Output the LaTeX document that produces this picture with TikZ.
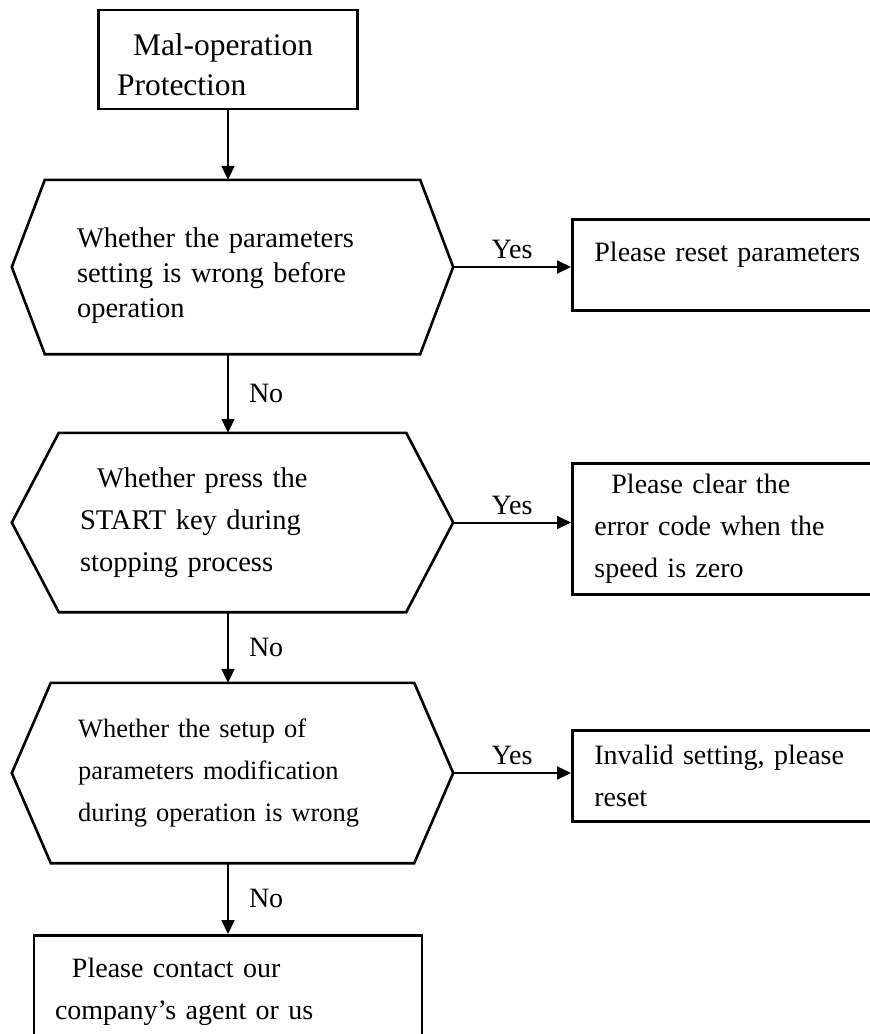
\documentclass[tikz,border=0pt]{standalone}
\usepackage{fontspec}
\setmainfont{Liberation Serif}
\usetikzlibrary{arrows.meta, positioning}
\tikzset{
    box/.style={
        rectangle, draw=black, line width=2.8pt,
        inner xsep=22pt, align=left,
        font=\fontsize{28pt}{42pt}\selectfont
    },
    hexbox/.style={
        rectangle, minimum width=441pt, inner xsep=0pt, align=left,
        font=\fontsize{28.5pt}{42pt}\selectfont
    },
    hexline/.style={draw=black, line width=2.6pt},
    arrow/.style={-{Triangle[length=14pt, width=13pt]}, line width=2pt},
    tag/.style={font=\fontsize{28pt}{34pt}\selectfont, inner sep=3pt}
}

\begin{document}
\begin{tikzpicture}[x=1pt, y=-1pt]
    \useasboundingbox (0,0) rectangle (870,1034);

    % Start
    \node[box, minimum width=259pt, minimum height=99pt, text width=222pt, inner xsep=0pt,
          font=\fontsize{31.5pt}{40pt}\selectfont] (start) at (228,59.5)
        {\rule{0pt}{32.5pt}\hspace*{16pt}Mal-operation\\Protection};

    % Checks
    \node[hexbox, minimum height=174pt, text width=311pt,
          font=\fontsize{28.5pt}{35pt}\selectfont] (q1) at (232.5,267)
        {\rule{0pt}{37.5pt}Whether the parameters\\setting is wrong before\\operation};
    \node[hexbox, minimum height=179pt, text width=305pt] (q2) at (232.5,522.5)
        {\hspace*{17pt}Whether press the\\START key during\\stopping process};
    \node[hexbox, minimum height=180pt, text width=309pt,
          font=\fontsize{26.5pt}{42pt}\selectfont] (q3) at (232.5,773)
        {Whether the setup of\\parameters modification\\during operation is wrong};

    \foreach \n/\c in {q1/33, q2/47, q3/39}
        \draw[hexline] ([xshift=\c pt]\n.north west) -- ([xshift=-\c pt]\n.north east) -- (\n.east)
            -- ([xshift=-\c pt]\n.south east) -- ([xshift=\c pt]\n.south west) -- (\n.west) -- cycle;

    % Answers
    \node[box, anchor=north west, text width=280pt, minimum height=91pt] (r1) at (571,218)
        {Please reset parameters\rule[-26pt]{0pt}{26pt}};
    \node[box, anchor=north west, text width=280pt, minimum height=131pt] (r2) at (571,462)
        {\hspace*{17pt}Please clear the\\error code when the\\speed is zero};
    \node[box, anchor=north west, text width=280pt, minimum height=91pt] (r3) at (571,729)
        {Invalid setting, please\\reset};

    \node[box, anchor=north, minimum width=388pt, minimum height=112pt, text width=346pt,
          inner xsep=0pt] (contact) at (228,934)
        {\hspace*{17pt}Please contact our\\company's agent or us};

    % Connectors
    \draw[arrow] (start.south) -- (start.south |- q1.north);
    \draw[arrow] (start.south |- q1.south) -- (start.south |- q2.north)
        node[tag, midway, right=17pt] (no1) {No};
    \draw[arrow] (start.south |- q2.south) -- (start.south |- q3.north)
        node[tag, midway, right=17pt] (no2) {No};
    \draw[arrow] (start.south |- q3.south) -- (contact.north)
        node[tag, midway, right=17pt] (no3) {No};

    \draw[arrow] (q1.east) -- (q1.east -| r1.west) node[tag, midway, above=4pt] (yes1) {Yes};
    \draw[arrow] (q2.east) -- (q2.east -| r2.west) node[tag, midway, above=4pt] (yes2) {Yes};
    \draw[arrow] (q3.east) -- (q3.east -| r3.west) node[tag, midway, above=4pt] (yes3) {Yes};
\end{tikzpicture}
\end{document}
